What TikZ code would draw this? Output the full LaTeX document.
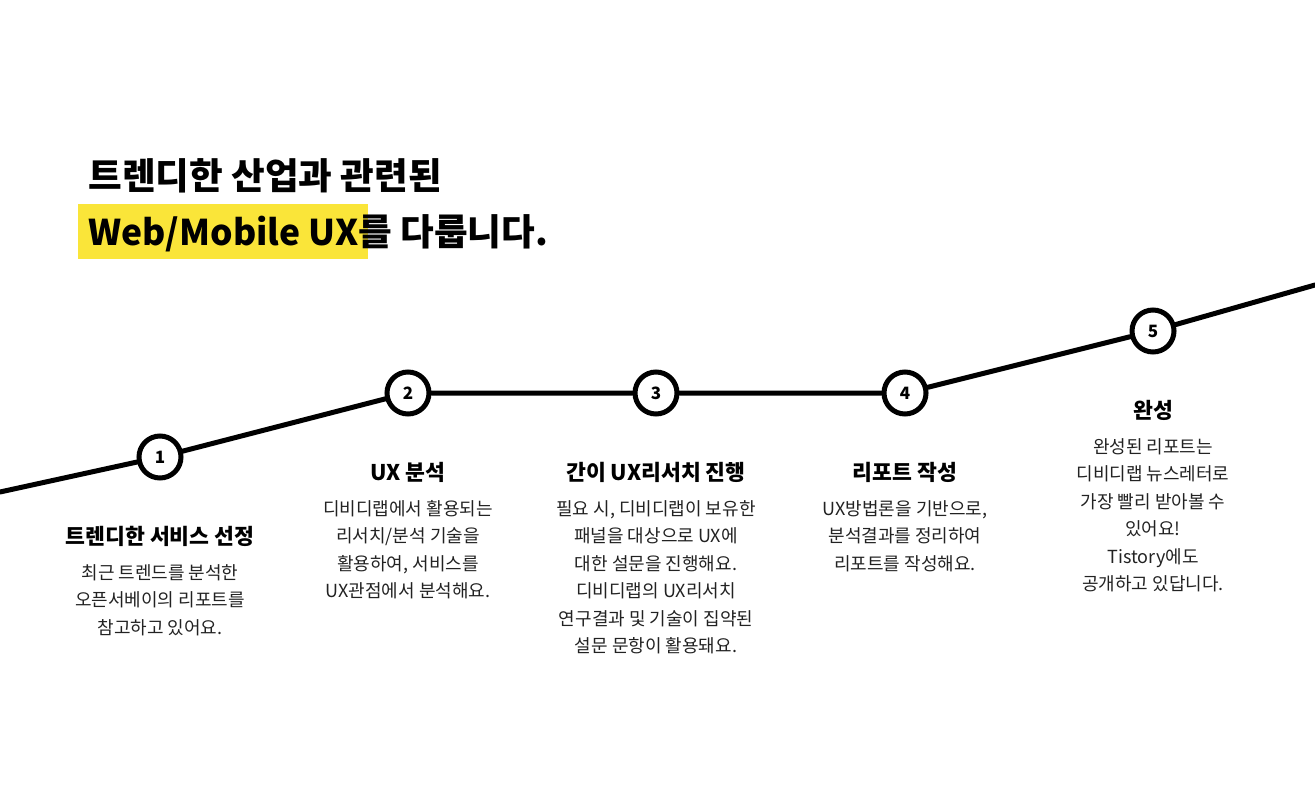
\documentclass[tikz,border=0pt]{standalone}
\usepackage{fontspec}
\setmainfont{Noto Sans CJK KR}
\usetikzlibrary{positioning}
\definecolor{hlyellow}{HTML}{FAE539}
\definecolor{bodytext}{HTML}{222222}

\begin{document}
\begin{tikzpicture}[x=0.5pt,y=-0.5pt,line cap=round,
  stepnum/.style={circle,draw,line width=2.5pt,fill=white,minimum size=21pt,inner sep=0pt,font=\fontsize{8.5}{10}\selectfont\bfseries},
  steptitle/.style={anchor=base,inner sep=0pt,font=\fontsize{10.8}{12}\selectfont\bfseries},
  stepbody/.style={anchor=north,inner sep=0pt,align=center,text=bodytext,font=\fontsize{9}{13.75}\selectfont},
  headline/.style={anchor=base west,inner sep=0pt,font=\fontsize{18.3}{20}\selectfont\bfseries}]
\useasboundingbox (0,0) rectangle (1315,802);
% headline
\fill[hlyellow] (78,204) rectangle (368,259);
\node[headline] (h1) at (88,190) {트렌디한 산업과 관련된};
\node[headline] (h2) at (88,245) {{\fontsize{17.7}{20}\selectfont Web/Mobile UX}를 다룹니다.};
% step circles
\coordinate (lstart) at (0,492);
\coordinate (lend) at (1315,285);
\node[stepnum] (n1) at (160,457) {1};
\node[stepnum] (n2) at (408,393) {2};
\node[stepnum] (n3) at (656,393) {3};
\node[stepnum] (n4) at (905,393) {4};
\node[stepnum] (n5) at (1153,331) {5};
\draw[line width=2.5pt] (lstart) -- (n1) -- (n2) -- (n3) -- (n4) -- (n5) -- (lend);
% titles
\node[steptitle] (t1) at (160,544) {트렌디한 서비스 선정};
\node[steptitle] (t2) at (408,480) {UX 분석};
\node[steptitle] (t3) at (656,480) {간이 UX리서치 진행};
\node[steptitle] (t4) at (905,480) {리포트 작성};
\node[steptitle] (t5) at (1153,418) {완성};
% descriptions
\node[stepbody] (b1) at (160,564) {최근 트렌드를 분석한\\오픈서베이의 리포트를\\참고하고 있어요.};
\node[stepbody] (b2) at (408,500) {디비디랩에서 활용되는\\리서치/분석 기술을\\활용하여, 서비스를\\UX관점에서 분석해요.};
\node[stepbody] (b3) at (656,500) {필요 시, 디비디랩이 보유한\\패널을 대상으로 UX에\\대한 설문을 진행해요.\\디비디랩의 UX리서치\\연구결과 및 기술이 집약된\\설문 문항이 활용돼요.};
\node[stepbody] (b4) at (905,500) {UX방법론을 기반으로,\\분석결과를 정리하여\\리포트를 작성해요.};
\node[stepbody] (b5) at (1153,438) {완성된 리포트는\\디비디랩 뉴스레터로\\가장 빨리 받아볼 수\\있어요!\\Tistory에도\\공개하고 있답니다.};
\end{tikzpicture}
\end{document}
